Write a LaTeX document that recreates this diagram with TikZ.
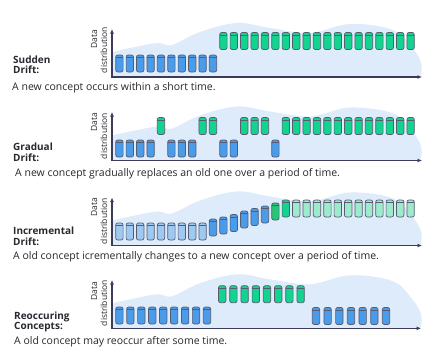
\documentclass[tikz,border=0pt]{standalone}
\usepackage{fontspec}
\setmainfont{Open Sans}
\usetikzlibrary{arrows.meta}
\definecolor{cblue}{RGB}{74,155,233}
\definecolor{cgreen}{RGB}{18,212,142}
\definecolor{cgreenmid}{RGB}{40,196,120}
\definecolor{clight}{RGB}{160,201,242}
\definecolor{cmint}{RGB}{158,234,204}
\definecolor{cedge}{RGB}{88,92,112}
\definecolor{blobc}{RGB}{222,235,250}
\definecolor{axisc}{RGB}{58,60,88}
\definecolor{txtc}{RGB}{40,40,46}
\tikzset{
  cylst/.style={draw=cedge, line width=0.7pt, rounded corners=2pt},
  axisst/.style={draw=axisc, line width=1.1pt, {Latex[length=4.5pt,width=4pt]}-{Latex[length=4.5pt,width=4pt]}},
  titlest/.style={font=\fontsize{10}{11}\selectfont\bfseries, text=txtc, inner sep=0pt, anchor=base west},
  capst/.style={font=\fontsize{10.5}{12}\selectfont, text=txtc, inner sep=0pt, anchor=base west},
  ylabst/.style={font=\fontsize{8.5}{10}\selectfont, text=txtc, inner sep=0pt, rotate=90, anchor=base east},
  blobst/.style={fill=blobc, draw=none}
}
\newcommand\drawcyl[3]{%
  \draw[cylst, fill=#3] (#1,#2) rectangle ++(7.4,17);
  \draw[draw=cedge, line width=0.6pt] (#1,#2+2.6) -- ++(7.4,0);
}
\newcommand\drawblob[1]{%
  \begin{scope}[shift={(0,#1)}]
    \fill[blobst] (112,0) -- plot[smooth, tension=0.6] coordinates {(112,-25) (135,-30) (158,-34) (172,-32) (200,-45) (237,-54) (270,-49) (310,-44) (350,-53) (393,-47) (413,-28) (421,-14) (421,-2)} -- (420,0) -- cycle;
  \end{scope}
}
\begin{document}
\begin{tikzpicture}[x=1pt, y=-1pt]
\useasboundingbox[fill=white] (0,0) rectangle (441,360);

% ---------------- Panel 1: Sudden drift ----------------
\drawblob{77}
\foreach \i in {0,...,9} {\drawcyl{115.7+10.4*\i}{55}{cblue}}
\foreach \i in {10,...,28} {\drawcyl{115.7+10.4*\i}{32.5}{cgreen}}
\coordinate (ya1) at (112,29);
\coordinate (o1) at (112,77);
\coordinate (xa1) at (422,77);
\draw[axisst] (ya1) -- (o1) -- (xa1);
\node[ylabst] (d1a) at (97,30) {Data};
\node[ylabst] (d1b) at (107,27) {distribution};
\node[titlest] (t1a) at (13,63.3) {Sudden};
\node[titlest] (t1b) at (13,73.3) {Drift:};
\node[capst] (c1) at (12,90.7) {A new concept occurs within a short time.};

% ---------------- Panel 2: Gradual drift ----------------
\drawblob{160.5}
\foreach \i in {0,1,2,3,5,6,7,10,11,15} {\drawcyl{115.7+10.4*\i}{140}{cblue}}
\foreach \i in {4,8,9,12,13,14,16,17,...,28} {\drawcyl{115.7+10.4*\i}{117.5}{cgreen}}
\coordinate (ya2) at (112,112);
\coordinate (o2) at (112,160.5);
\coordinate (xa2) at (422,160.5);
\draw[axisst] (ya2) -- (o2) -- (xa2);
\node[ylabst] (d2a) at (97,113) {Data};
\node[ylabst] (d2b) at (107,113) {distribution};
\node[titlest] (t2a) at (13,150.7) {Gradual};
\node[titlest] (t2b) at (13,161) {Drift:};
\node[capst] (c2) at (15,176) {A new concept gradually replaces an old one over a period of time.};

% ---------------- Panel 3: Incremental drift ----------------
\drawblob{245.5}
\foreach \i in {0,...,8} {\drawcyl{115.7+10.4*\i}{223}{clight}}
\foreach \i/\t/\c in {9/219/cblue,10/217/cblue,11/214.5/cblue,12/211/cblue,13/208.5/cblue,14/206/cblue,15/203/cgreenmid,16/200/cgreen}
  {\drawcyl{115.7+10.4*\i}{\t}{\c}}
\foreach \i in {17,...,28} {\drawcyl{115.7+10.4*\i}{200}{cmint}}
\coordinate (ya3) at (112,197.5);
\coordinate (o3) at (112,245.5);
\coordinate (xa3) at (422,245.5);
\draw[axisst] (ya3) -- (o3) -- (xa3);
\node[ylabst] (d3a) at (97,198) {Data};
\node[ylabst] (d3b) at (107,198) {distribution};
\node[titlest] (t3a) at (13,234) {Incremental};
\node[titlest] (t3b) at (13,245) {Drift:};
\node[capst] (c3) at (13,259) {A old concept icrementally changes to a new concept over a period of time.};

% ---------------- Panel 4: Reoccuring concepts ----------------
\drawblob{328.3}
\foreach \i in {0,...,8} {\drawcyl{115.7+10.95*\i}{307}{cblue}}
\foreach \i in {0,...,7} {\drawcyl{218.5+11.2*\i}{285.7}{cgreen}}
\foreach \i in {0,...,6} {\drawcyl{312.3+11.67*\i}{307.5}{cblue}}
\coordinate (ya4) at (112,280);
\coordinate (o4) at (112,328.3);
\coordinate (xa4) at (421,328.3);
\draw[axisst] (ya4) -- (o4) -- (xa4);
\node[ylabst] (d4a) at (97,282) {Data};
\node[ylabst] (d4b) at (107,280) {distribution};
\node[titlest] (t4a) at (14,319) {Reoccuring};
\node[titlest] (t4b) at (14,329.7) {Concepts:};
\node[capst] (c4) at (14,344) {A old concept may reoccur after some time.};
\end{tikzpicture}
\end{document}
